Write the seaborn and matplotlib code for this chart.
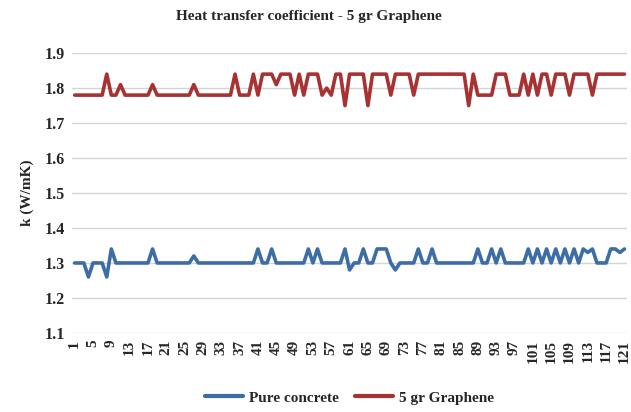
import pandas as pd
import seaborn as sns
import matplotlib.pyplot as plt

# readings 1..121
pure_concrete = [
    1.30, 1.30, 1.30, 1.26, 1.30, 1.30, 1.30, 1.26, 1.34, 1.30,
    1.30, 1.30, 1.30, 1.30, 1.30, 1.30, 1.30, 1.34, 1.30, 1.30,
    1.30, 1.30, 1.30, 1.30, 1.30, 1.30, 1.32, 1.30, 1.30, 1.30,
    1.30, 1.30, 1.30, 1.30, 1.30, 1.30, 1.30, 1.30, 1.30, 1.30,
    1.34, 1.30, 1.30, 1.34, 1.30, 1.30, 1.30, 1.30, 1.30, 1.30,
    1.30, 1.34, 1.30, 1.34, 1.30, 1.30, 1.30, 1.30, 1.30, 1.34,
    1.28, 1.30, 1.30, 1.34, 1.30, 1.30, 1.34, 1.34, 1.34, 1.30,
    1.28, 1.30, 1.30, 1.30, 1.30, 1.34, 1.30, 1.30, 1.34, 1.30,
    1.30, 1.30, 1.30, 1.30, 1.30, 1.30, 1.30, 1.30, 1.34, 1.30,
    1.30, 1.34, 1.30, 1.34, 1.30, 1.30, 1.30, 1.30, 1.30, 1.34,
    1.30, 1.34, 1.30, 1.34, 1.30, 1.34, 1.30, 1.34, 1.30, 1.34,
    1.30, 1.34, 1.33, 1.34, 1.30, 1.30, 1.30, 1.34, 1.34, 1.33,
    1.34,
]

graphene_5gr = [
    1.78, 1.78, 1.78, 1.78, 1.78, 1.78, 1.78, 1.84, 1.78, 1.78,
    1.81, 1.78, 1.78, 1.78, 1.78, 1.78, 1.78, 1.81, 1.78, 1.78,
    1.78, 1.78, 1.78, 1.78, 1.78, 1.78, 1.81, 1.78, 1.78, 1.78,
    1.78, 1.78, 1.78, 1.78, 1.78, 1.84, 1.78, 1.78, 1.78, 1.84,
    1.78, 1.84, 1.84, 1.84, 1.81, 1.84, 1.84, 1.84, 1.78, 1.84,
    1.78, 1.84, 1.84, 1.84, 1.78, 1.80, 1.78, 1.84, 1.84, 1.75,
    1.84, 1.84, 1.84, 1.84, 1.75, 1.84, 1.84, 1.84, 1.84, 1.78,
    1.84, 1.84, 1.84, 1.84, 1.78, 1.84, 1.84, 1.84, 1.84, 1.84,
    1.84, 1.84, 1.84, 1.84, 1.84, 1.84, 1.75, 1.84, 1.78, 1.78,
    1.78, 1.78, 1.84, 1.84, 1.84, 1.78, 1.78, 1.78, 1.84, 1.78,
    1.84, 1.78, 1.84, 1.84, 1.78, 1.84, 1.84, 1.84, 1.78, 1.84,
    1.84, 1.84, 1.84, 1.78, 1.84, 1.84, 1.84, 1.84, 1.84, 1.84,
    1.84,
]

readings = list(range(1, 122))
tick_labels = list(range(1, 122, 4))

df = pd.concat([
    pd.DataFrame({'Reading': readings, 'k': pure_concrete, 'Series': 'Pure concrete'}),
    pd.DataFrame({'Reading': readings, 'k': graphene_5gr, 'Series': '5 gr Graphene'}),
])

sns.set_style('white')
plt.rcParams['font.family'] = ['Liberation Serif', 'DejaVu Serif']
plt.rcParams['font.weight'] = 'bold'

fig, ax = plt.subplots(figsize=(6.31, 4.12), dpi=100)
fig.subplots_adjust(left=0.114, right=0.994, top=0.871, bottom=0.192)

sns.lineplot(data=df, x='Reading', y='k', hue='Series',
             palette={'Pure concrete': '#3c6da6', '5 gr Graphene': '#a83232'},
             linewidth=2.6, ax=ax)

ax.set_xlim(0.4, 121.6)
ax.set_ylim(1.1, 1.9)
ax.set_yticks([1.1, 1.2, 1.3, 1.4, 1.5, 1.6, 1.7, 1.8, 1.9])
ax.set_yticklabels(['1.1', '1.2', '1.3', '1.4', '1.5', '1.6', '1.7', '1.8', '1.9'],
                   fontsize=11.5, fontweight='bold')
ax.set_xticks(tick_labels)
ax.set_xticklabels([str(t) for t in tick_labels], rotation=90, fontsize=11,
                   fontweight='bold')
ax.tick_params(axis='both', length=0, pad=5)
ax.grid(axis='y', color='#d4d4d4', linewidth=1)
for s in ax.spines.values():
    s.set_visible(False)

ax.set_xlabel('')
ax.set_ylabel('k (W/mK)', fontsize=11, fontweight='bold', labelpad=8)
fig.text(0.49, 0.96, 'Heat transfer coefficient - 5 gr Graphene',
         ha='center', va='center', fontsize=11, fontweight='bold')

handles, labels = ax.get_legend_handles_labels()
ax.legend(handles, labels, loc='center', bbox_to_anchor=(0.5, -0.232),
          ncol=2, frameon=False, fontsize=11, handlelength=2.5,
          columnspacing=1.0, handletextpad=0.4)
for line in ax.get_legend().get_lines():
    line.set_linewidth(3)

fig.savefig('out.png', dpi=100)
